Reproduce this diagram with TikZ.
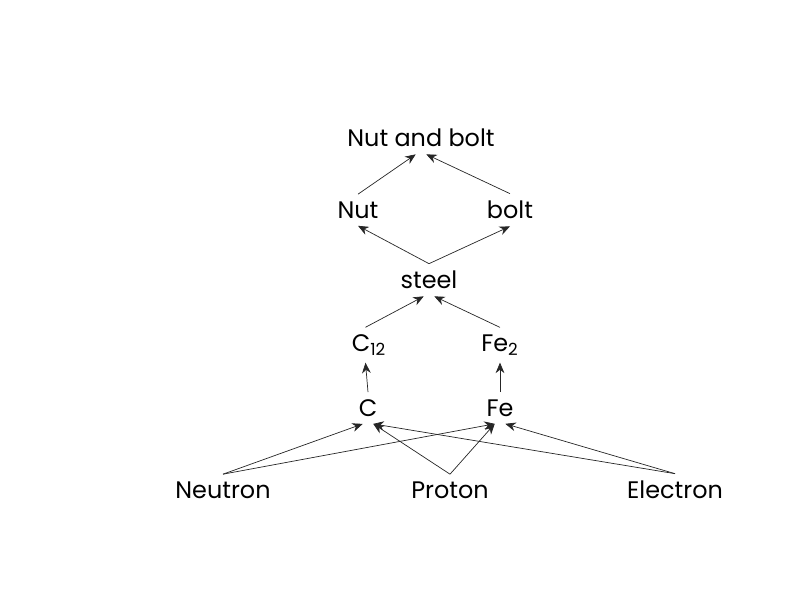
\documentclass[tikz,border=0pt]{standalone}
\usepackage{fontspec}
\setmainfont{Poppins}
\usetikzlibrary{arrows.meta,positioning}

\begin{document}
\begin{tikzpicture}[
    lbl/.style={inner sep=4pt,font=\fontsize{13.6}{16}\selectfont},
    arr/.style={-{Stealth[length=6pt,width=5pt]},line width=0.4pt,black!85}
]
\useasboundingbox (0,0) rectangle (16,12);
\node[lbl] (nb)    at (8.42,9.24) {Nut and bolt};
\node[lbl] (nut)   at (7.16,7.8)  {Nut};
\node[lbl] (bolt)  at (10.2,7.8)  {bolt};
\node[lbl] (steel) at (8.58,6.4)  {steel};
\node[lbl] (ctw)   at (7.38,5.1)  {C\textsubscript{12}};
\node[lbl] (fetw)  at (10.0,5.1)  {Fe\textsubscript{2}};
\node[lbl] (c)     at (7.36,3.84) {C};
\node[lbl] (fe)    at (10.0,3.84) {Fe};
\node[lbl] (neut)  at (4.46,2.2)  {Neutron};
\node[lbl] (prot)  at (9.0,2.2)   {Proton};
\node[lbl] (elec)  at (13.5,2.2)  {Electron};

\draw[arr] (nut.north) -- ([xshift=-3pt]nb.south);
\draw[arr] (bolt.north) -- ([xshift=3pt]nb.south);
\draw[arr] (steel.north) -- (nut.south);
\draw[arr] (steel.north) -- (bolt.south);
\draw[arr] ([xshift=-2pt]ctw.north) -- ([xshift=-3pt]steel.south);
\draw[arr] (fetw.north) -- ([xshift=3pt]steel.south);
\draw[arr] (c.north) -- ([xshift=-2pt]ctw.south);
\draw[arr] (fe.north) -- (fetw.south);
% bottom level
\draw[arr] (neut.north) -- ([xshift=-3pt]c.south);
\draw[arr] (neut.north) -- ([xshift=-3pt]fe.south);
\draw[arr] (prot.north) -- ([xshift=3pt]c.south);
\draw[arr] (prot.north) -- ([xshift=-3pt]fe.south);
\draw[arr] (elec.north) -- ([xshift=3pt]c.south);
\draw[arr] (elec.north) -- ([xshift=3pt]fe.south);
\end{tikzpicture}
\end{document}
